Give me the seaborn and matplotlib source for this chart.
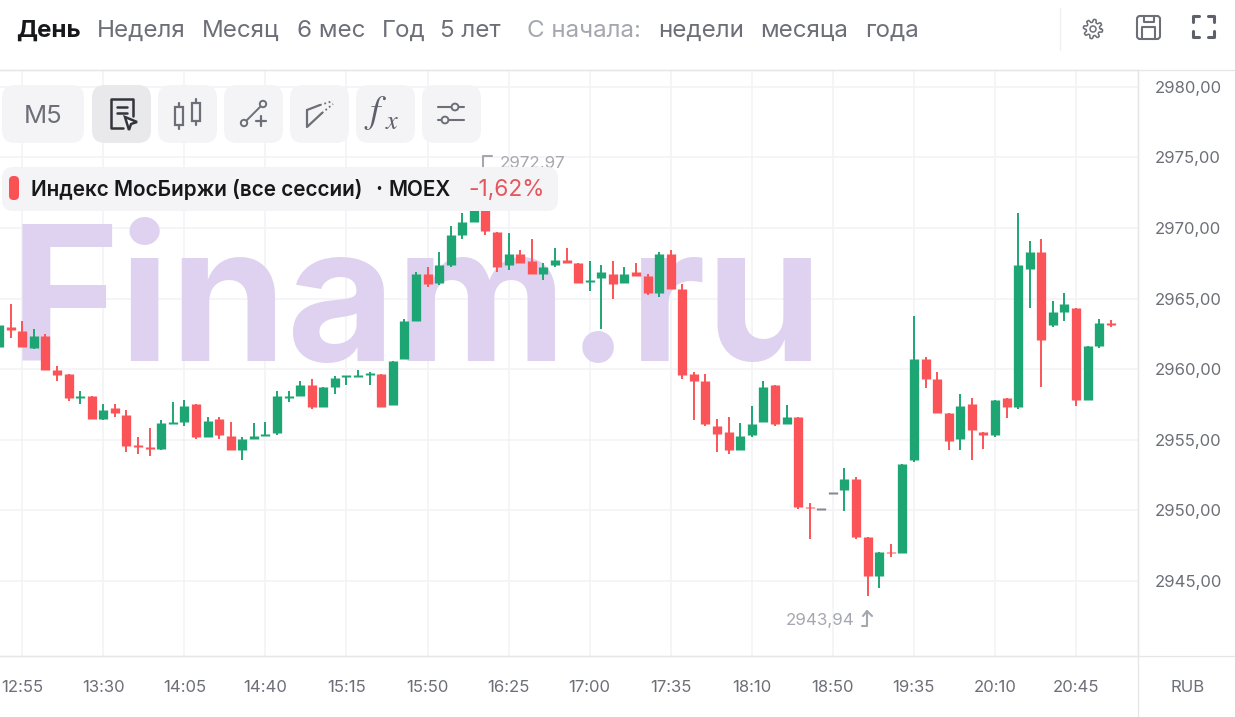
import numpy as np
import pandas as pd
import matplotlib
matplotlib.use("Agg")
import matplotlib.pyplot as plt
from matplotlib.patches import FancyBboxPatch, Circle, Polygon, Rectangle
import seaborn as sns

# ---------------- data -----------------
candle_open = [2961.60,2962.99,2962.73,2961.52,2962.35,2959.94,2959.66,2957.96,2958.08,2956.49,
 2957.27,2956.73,2954.63,2954.48,2954.37,2956.11,2956.23,2957.53,2955.19,2956.49,
 2955.29,2954.25,2955.05,2955.31,2955.45,2957.98,2958.10,2958.88,2957.30,2958.74,
 2959.45,2959.45,2959.61,2959.66,2957.44,2960.74,2963.39,2966.75,2966.08,2967.38,
 2969.53,2970.45,2971.50,2969.75,2967.38,2968.16,2967.64,2966.75,2967.38,2967.76,
 2967.50,2966.23,2966.46,2966.72,2966.08,2966.86,2966.60,2965.40,2968.19,2965.66,
 2959.68,2959.16,2955.95,2955.55,2954.25,2955.31,2956.23,2958.88,2956.12,2956.64,
 2950.24,2950.07,2951.25,2951.44,2952.24,2948.13,2945.35,2947.05,2946.95,2953.57,
 2960.75,2959.28,2956.90,2955.03,2957.54,2955.55,2955.32,2957.93,2957.30,2967.12,
 2968.31,2963.13,2964.05,2964.34,2957.82,2961.67,2963.27]
candle_close = [2963.13,2962.75,2961.57,2962.35,2959.97,2959.56,2957.96,2958.05,2956.49,2957.13,
 2956.92,2954.53,2954.53,2954.39,2956.21,2956.21,2957.41,2955.17,2956.35,2955.31,
 2954.25,2955.03,2955.29,2955.41,2958.08,2958.08,2958.88,2957.30,2958.74,2959.40,
 2959.54,2959.59,2959.71,2957.30,2960.58,2963.39,2966.75,2966.06,2967.38,2969.49,
 2970.41,2971.50,2969.79,2967.24,2968.16,2967.53,2966.75,2967.24,2967.76,2967.53,
 2966.08,2966.32,2966.86,2966.06,2966.72,2966.60,2965.40,2968.19,2965.68,2959.56,
 2959.16,2956.11,2955.43,2954.25,2955.29,2956.09,2958.74,2956.11,2956.64,2950.24,
 2950.14,2950.07,2951.25,2952.22,2948.13,2945.35,2947.05,2946.95,2953.31,2960.75,
 2959.30,2956.90,2954.91,2957.42,2955.72,2955.32,2957.82,2957.30,2967.38,2968.31,
 2962.09,2964.05,2964.60,2957.82,2961.67,2963.25,2963.15]
candle_high = [2964.69,2964.60,2963.41,2962.85,2962.47,2960.23,2959.66,2958.48,2958.08,2957.53,
 2957.53,2957.13,2955.17,2955.83,2956.37,2957.67,2957.82,2957.53,2956.61,2956.61,
 2956.23,2955.17,2956.21,2956.23,2958.48,2958.48,2959.14,2959.28,2958.74,2959.54,
 2959.54,2959.94,2959.80,2959.66,2960.58,2963.53,2966.86,2967.27,2968.30,2970.15,
 2971.09,2972.30,2972.97,2969.75,2969.63,2968.42,2969.23,2967.50,2968.56,2968.56,
 2967.50,2967.64,2967.36,2967.64,2967.24,2967.50,2966.72,2968.30,2968.42,2966.06,
 2959.78,2959.68,2956.49,2956.61,2956.21,2957.41,2959.14,2958.88,2957.44,2956.64,
 2950.50,2950.07,2951.25,2953.02,2952.36,2948.13,2947.05,2947.59,2953.31,2963.79,
 2960.86,2959.80,2956.90,2958.22,2957.93,2955.55,2957.82,2957.93,2971.09,2969.11,
 2969.23,2964.86,2965.38,2964.34,2961.67,2963.53,2963.49]
candle_low = [2961.60,2962.23,2961.57,2961.43,2959.97,2959.16,2957.72,2957.56,2956.49,2956.37,
 2956.63,2954.11,2953.99,2953.87,2954.25,2956.11,2955.97,2955.05,2955.19,2955.05,
 2954.25,2953.59,2955.05,2955.31,2955.31,2957.70,2958.10,2957.15,2957.30,2958.22,
 2958.88,2959.45,2958.88,2957.30,2957.44,2960.74,2963.39,2965.80,2965.94,2967.27,
 2969.25,2970.45,2969.53,2966.86,2967.01,2967.53,2966.75,2966.32,2967.27,2967.53,
 2966.08,2965.54,2962.87,2965.00,2966.08,2966.60,2965.26,2965.14,2965.68,2959.30,
 2956.37,2955.97,2954.11,2953.96,2954.25,2955.17,2956.23,2955.97,2956.12,2950.12,
 2947.99,2950.07,2951.25,2949.98,2947.99,2943.94,2944.52,2946.67,2946.95,2953.45,
 2958.64,2956.90,2954.25,2954.25,2953.59,2954.37,2955.20,2956.52,2957.16,2964.36,
 2958.76,2963.01,2963.41,2957.41,2957.82,2961.53,2962.97]

time_labels = ["12:55","13:30","14:05","14:40","15:15","15:50","16:25","17:00",
               "17:35","18:10","18:50","19:35","20:10","20:45"]
price_ticks = [2945,2950,2955,2960,2965,2970,2975,2980]
periods = ["Неделя","Месяц","6 мес","Год","5 лет"]
since = ["недели","месяца","года"]

GREEN, RED, FLAT = "#1DA673", "#FB5458", "#85878F"
GRID = "#F3F3F5"
LINE = "#E6E6E9"
TXT = "#6D6F78"
LIGHT = "#A5A7B0"
BTN = "#F4F4F6"

# ---------------- theme -----------------
sns.set_theme(style="whitegrid", rc={"grid.color": GRID, "grid.linewidth": 1.1,
                                     "axes.edgecolor": LINE, "axes.linewidth": 1.0})
plt.rcParams["font.family"] = ["Inter", "DejaVu Sans"]

W, H = 1235, 717
OFF = 20  # the axes start left of the picture, so the first candle is cut by the edge
fig = plt.figure(figsize=(W / 100, H / 100), dpi=100, facecolor="white")
ax = fig.add_axes([-OFF / W, (H - 656) / H, (1138 + OFF) / W, 586 / H])

# overlay axes in picture units for the interface parts
ui = fig.add_axes([0, 0, 1, 1], zorder=5)
ui.set_xlim(0, W); ui.set_ylim(H, 0); ui.axis("off"); ui.patch.set_alpha(0)

# ---------------- candles -----------------
n = len(candle_open)
idx = np.arange(n)
o, c, hi, lo = map(np.array, (candle_open, candle_close, candle_high, candle_low))
direction = np.where(c > o, "up", np.where(c < o, "down", "flat"))
pal = {"up": GREEN, "down": RED, "flat": FLAT}

wicks = pd.DataFrame({"i": np.r_[idx, idx], "price": np.r_[lo, hi], "dir": np.r_[direction, direction]})
wicks = wicks[wicks["dir"] != "flat"]
top = np.maximum(o, c); bot = np.minimum(o, c)
thin = (top - bot) < 0.13
mid = (top + bot) / 2
top = np.where(thin, mid + 0.065, top); bot = np.where(thin, mid - 0.065, bot)
bodies = pd.DataFrame({"i": np.r_[idx, idx], "price": np.r_[bot, top], "dir": np.r_[direction, direction]})

sns.lineplot(data=wicks, x="i", y="price", hue="dir", units="i", estimator=None, palette=pal,
             linewidth=1.4, legend=False, sort=False, ax=ax, zorder=3, solid_capstyle="butt")
sns.lineplot(data=bodies, x="i", y="price", hue="dir", units="i", estimator=None, palette=pal,
             linewidth=6.7, legend=False, sort=False, ax=ax, zorder=4, solid_capstyle="butt")

ax.set_xlim(-1.649, 98.35)
ax.set_ylim(2939.67, 2981.2)
ax.set_xlabel(""); ax.set_ylabel("")
ax.set_xticks(2 + 7 * np.arange(len(time_labels)))
ax.set_xticklabels(time_labels, fontsize=12, color=TXT)
ax.yaxis.tick_right()
ax.set_yticks(price_ticks)
ax.set_yticklabels([f"{v},00" for v in price_ticks], fontsize=12, color=TXT)
ax.tick_params(axis="both", length=0)
ax.tick_params(axis="x", pad=17)
ax.tick_params(axis="y", pad=11.8)
ax.grid(True)
ax.set_axisbelow(True)
ax.spines["left"].set_visible(False)

# watermark
ax.text(9.5, 361, "Finam.ru", transform=ui.transData, fontsize=135, fontweight="bold",
        color="#DED2F0", va="baseline", ha="left", zorder=1.5, clip_on=False)

# ---------------- interface -----------------
def box(x0, y0, x1, y1, fc, r=12, z=6):
    ui.add_patch(FancyBboxPatch((x0 + r, y0 + r), x1 - x0 - 2 * r, y1 - y0 - 2 * r,
                                boxstyle=f"round,pad={r},rounding_size={r}", fc=fc, ec="none", zorder=z))

def seg(xs, ys, col="#6D6F78", lw=1.5, z=7, **k):
    ui.plot(xs, ys, color=col, lw=lw, solid_capstyle="round", zorder=z, **k)

def label(x, y, s, col=TXT, size=17.4, weight="normal", ha="left", z=7):
    ui.text(x, y, s, color=col, fontsize=size, fontweight=weight, ha=ha, va="center_baseline", zorder=z)

# top bar
label(16, 28.5, "День", "#17181C", 17.4, "bold")
for x, s in zip([97, 202, 297, 382, 440], periods):
    label(x, 28.5, s)
label(527, 28.5, "С начала:", LIGHT)
for x, s in zip([658, 760, 865], since):
    label(x, 28.5, s)
seg([0, W], [69.5, 69.5], LINE, 0.9)
seg([1060, 1060], [8, 50], "#EFEFF1", 0.9)
seg([1138, 1138], [70, H], LINE, 0.9)
seg([0, W], [656, 656], LINE, 0.9)
label(1188, 686, "RUB", TXT, 12, ha="center")

# gear
t = np.linspace(0, 2 * np.pi, 97)
rad = 8.2 + 1.5 * np.tanh(3 * np.sin(8 * t))
ui.plot(1093 + rad * np.cos(t), 29 + rad * np.sin(t), color=TXT, lw=1.1, zorder=7)
ui.add_patch(Circle((1093, 29), 3, fc="none", ec=TXT, lw=1.1, zorder=7))
# save
ui.add_patch(FancyBboxPatch((1140, 19), 17, 17, boxstyle="round,pad=3,rounding_size=3",
                            fc="none", ec=TXT, lw=1.5, zorder=7))
seg([1144, 1144, 1154, 1154], [16, 22, 22, 16], TXT, 1.5)
seg([1142, 1142, 1155, 1155], [38, 27, 27, 38], TXT, 1.5)
# full screen
for sx, sy in [(1193, 16), (1214, 16), (1193, 37), (1214, 37)]:
    dx = 6 if sx < 1200 else -6
    dy = 6 if sy < 20 else -6
    seg([sx + dx, sx, sx], [sy, sy, sy + dy], "#5F616A", 2.2)

# tool buttons
for x0, x1, fc in [(2, 84, BTN), (92, 151, "#E9E9EC"), (158, 217, BTN), (224, 283, BTN),
                   (290, 349, BTN), (356, 415, BTN), (422, 481, BTN)]:
    box(x0, 85, x1, 143, fc, r=13)
label(43, 114, "M5", TXT, 18.5, ha="center")
# document + cursor
seg([123, 111, 111, 133, 133], [128, 128, 99, 99, 116], "#33353B", 1.8)
seg([117, 127], [107, 107], "#33353B", 1.8)
seg([117, 127], [113, 113], "#33353B", 1.8)
ui.add_patch(Polygon([[125, 117], [137, 122], [131, 124], [129, 130]], closed=True, fc="white",
                     ec="#33353B", lw=1.8, zorder=7))
# candles icon
ui.add_patch(Rectangle((175, 107), 8, 18, fc="none", ec=TXT, lw=1.6, zorder=7))
ui.add_patch(Rectangle((192, 103), 8, 18, fc="none", ec=TXT, lw=1.6, zorder=7))
seg([179, 179], [103, 107], TXT, 1.6); seg([179, 179], [125, 129], TXT, 1.6)
seg([196, 196], [99, 103], TXT, 1.6); seg([196, 196], [121, 125], TXT, 1.6)
# line tool
ui.add_patch(Circle((263, 104), 3.2, fc="none", ec=TXT, lw=1.4, zorder=7))
ui.add_patch(Circle((244, 123), 3.2, fc="none", ec=TXT, lw=1.4, zorder=7))
seg([246.5, 260.5], [120.5, 106.5], TXT, 1.4)
seg([256, 266], [121, 121], TXT, 1.6); seg([261, 261], [116, 126], TXT, 1.6)
# channel tool
seg([307, 307, 322], [110, 127, 113], TXT, 1.6); seg([307, 320], [110, 105], TXT, 1.6)
seg([320, 333], [105, 101], TXT, 1.3, linestyle=(0, (1, 1.5)))
seg([322, 333], [113, 104], TXT, 1.3, linestyle=(0, (1, 1.5)))
# fx
ui.text(387, 113, "$f$", fontsize=27, color="#5F616A", ha="right", va="center", zorder=7,
        math_fontfamily="stix")
ui.text(385, 122, "$x$", fontsize=19, color="#5F616A", ha="left", va="center", zorder=7,
        math_fontfamily="stix")
# sliders
seg([438, 464], [107, 107], TXT, 1.5); seg([438, 464], [120, 120], TXT, 1.5)
ui.add_patch(Circle((455, 107), 3.4, fc=BTN, ec=TXT, lw=1.4, zorder=8))
ui.add_patch(Circle((445, 120), 3.4, fc=BTN, ec=TXT, lw=1.4, zorder=8))

# high marker, partly under the legend box
label(500, 162, "2972,97", LIGHT, 12.2, z=5.5)
seg([483, 483, 492], [170, 156, 156], LIGHT, 1.5, z=5.5)

# legend box
box(2, 167, 558, 211, BTN, r=11, z=6)
box(9, 176, 19, 200, "#FA5155", r=4.5, z=7)
label(31, 188, "Индекс МосБиржи (все сессии)", "#17181C", 14.9, "semibold")
label(375, 188, "·", "#17181C", 14.9, "bold")
label(388, 188, "MOEX", "#17181C", 14.9, "semibold")
label(468, 188, "-1,62%", "#E4575E", 16.3)

# low marker
label(786, 619, "2943,94", LIGHT, 12.2)
seg([862, 867, 867, 872], [626, 626, 611, 616], LIGHT, 1.5)
seg([863, 867], [616, 611], LIGHT, 1.5)

fig.savefig("out.png", dpi=100, facecolor="white")
